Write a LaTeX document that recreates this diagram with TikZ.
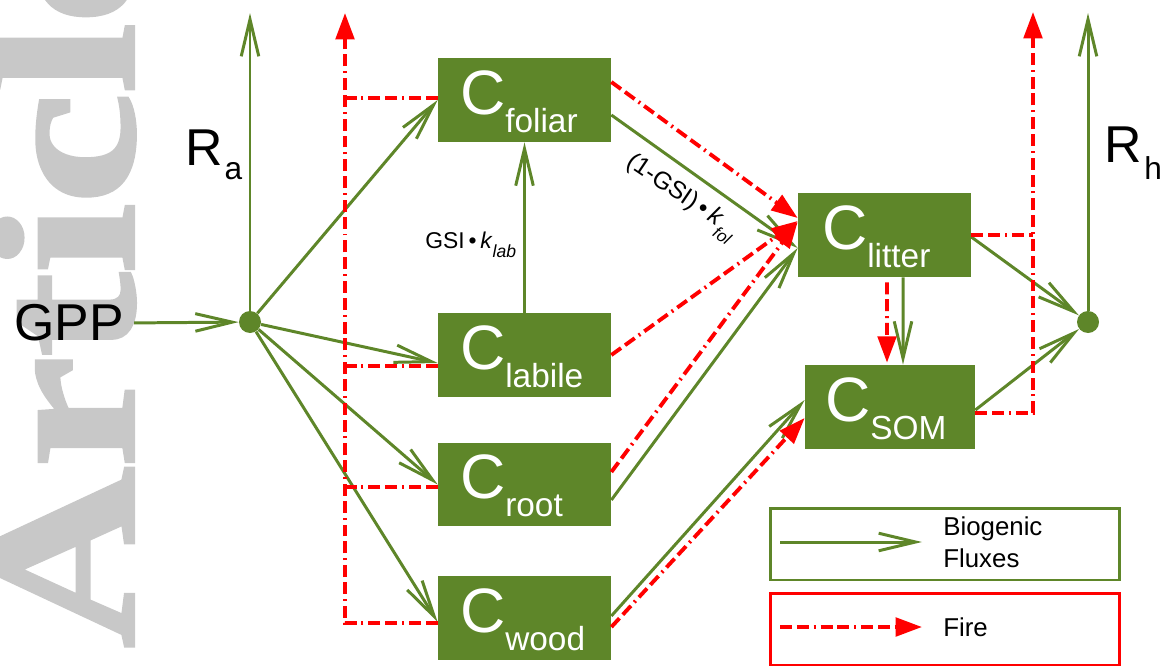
\documentclass[tikz,border=0pt]{standalone}
\usepackage{fontspec}
\setmainfont{Liberation Sans}
\newfontfamily\wmfont{Liberation Serif}[BoldFeatures={FakeBold=2}]
\usetikzlibrary{arrows.meta,calc}
\definecolor{ogreen}{RGB}{94,134,41}
\definecolor{wmgray}{RGB}{200,200,200}
\newcommand\pooltxt[1]{C\raisebox{-0.36cm}{\fontsize{19}{19}\selectfont #1}}
\begin{document}
\begin{tikzpicture}[x=0.02cm,y=-0.02cm,
  bio/.style={draw=ogreen, line width=1.7pt, -{Straight Barb[length=21pt,width=10pt]}},
  fire/.style={draw=red, line width=2.2pt, dash pattern=on 6.8pt off 2.8pt on 6.8pt off 2.8pt on 1.1pt off 2.8pt},
  firearrow/.style={fire, -{Triangle[length=15pt,width=10.5pt]}},
  pool/.style={fill=ogreen, draw=none, minimum width=3.46cm, minimum height=1.68cm, inner sep=0},
  pooltext/.style={anchor=base west, inner sep=0, text=white, font=\fontsize{35.7}{36}\selectfont},
  hub/.style={circle, fill=ogreen, minimum size=0.44cm, inner sep=0},
  big/.style={font=\fontsize{29.5}{30}\selectfont, inner sep=0},
  legtext/.style={anchor=base west, inner sep=0, font=\fontsize{14.7}{15}\selectfont},
  watermark/.style={anchor=base west, rotate=90, inner sep=0, text=wmgray, font=\wmfont\bfseries\fontsize{115.6}{116}\selectfont}]
\useasboundingbox (0,0) rectangle (1169,666);
% watermark
\node[watermark] (wm) at (133,648) {\scalebox{1.23}[1]{Article}};

% pools
\node[pool] (fol) at (524.5,100) {};
\node[pool] (lab) at (524.5,355) {};
\node[pool] (root) at (524.5,484.5) {};
\node[pool] (wood) at (524.5,618) {};
\node[pool] (lit) at (884.5,235) {};
\node[pool, minimum width=3.4cm] (som) at (890,407) {};
\node[pooltext] (folT) at ($(fol.south west)+(22,-28)$) {\pooltxt{foliar}};
\node[pooltext] (labT) at ($(lab.south west)+(22,-28)$) {\pooltxt{labile}};
\node[pooltext] (rootT) at ($(root.south west)+(22,-28)$) {\pooltxt{root}};
\node[pooltext] (woodT) at ($(wood.south west)+(22,-28)$) {\pooltxt{wood}};
\node[pooltext] (litT) at ($(lit.south west)+(24,-28)$) {\pooltxt{litter}};
\node[pooltext] (somT) at ($(som.south west)+(20,-28)$) {\pooltxt{SOM}};

% hubs and labels
\node[hub] (hubA) at (250,322) {};
\node[hub] (hubH) at (1088,322) {};
\node[big] (gpp) at (69,323) {GPP};
\node[big, anchor=base west] (ra) at (185,165) {R\kern1pt\raisebox{-0.3cm}{\fontsize{18}{18}\selectfont a}};
\node[big, anchor=base west] (rh) at (1104,162) {R\kern1.5pt\raisebox{-0.36cm}{\fontsize{18}{18}\selectfont h}};
\node[anchor=base west, inner sep=0, font=\fontsize{13}{13}\selectfont] (gsi) at (425,248)
  {GSI\,\textbullet\,\textit{k}\raisebox{-0.18cm}{\fontsize{10}{10}\selectfont\textit{lab}}};
\node[anchor=base west, inner sep=0, rotate=-34, font=\fontsize{14}{14}\selectfont] (gsifol) at (625,165)
  {(1-GSI)\,\textbullet\,\textit{k}\raisebox{-0.2cm}{\fontsize{9.5}{9.5}\selectfont\textit{fol}}};

% coordinates
\coordinate (raTop) at (250,13);
\coordinate (rhTop) at (1088,13);
\coordinate (fLTop) at (345,13);
\coordinate (fRTop) at (1033,12);

% biogenic fluxes
\draw[bio, shorten <=0.2cm] (gpp.east) -- (hubA);
\draw[bio] (hubA) -- (raTop);
\draw[bio] (hubH) -- (rhTop);
\draw[bio] (hubA) -- (fol.west);
\draw[bio] (hubA) -- ($(lab.west)+(0,8)$);
\draw[bio] (hubA) -- (root.west);
\draw[bio] (hubA) -- ($(wood.west)+(0,4)$);
\draw[bio] (lab.north) -- (fol.south);
\draw[bio] ($(fol.east)+(0,15)$) -- ($(lit.west)+(0,13)$);
\draw[bio] ($(root.east)+(0,15.5)$) -- ($(lit.west)+(0,13)$);
\draw[bio] ($(wood.east)+(0,-2)$) -- ($(som.west)+(0,-7)$);
\draw[bio] ($(lit.south)+(18.5,0)$) -- ($(som.north)+(13,0)$);
\draw[bio] ($(lit.east)+(0,2)$) -- (hubH);
\draw[bio] ($(som.east)+(0,3)$) -- (hubH);

% fire fluxes
\coordinate (folF) at ($(fol.west)+(0,-2)$);
\coordinate (labF) at ($(lab.west)+(0,11)$);
\coordinate (rootF) at ($(root.west)+(0,2.5)$);
\coordinate (woodF) at ($(wood.west)+(0,5)$);
\draw[firearrow] (woodF) -| (fLTop);
\draw[fire] (folF) -- (folF -| fLTop);
\draw[fire] (labF) -- (labF -| fLTop);
\draw[fire] (rootF) -- (rootF -| fLTop);
\coordinate (litF) at (lit.east);
\coordinate (somF) at ($(som.east)+(0,6)$);
\draw[firearrow] (somF) -| (fRTop);
\draw[fire] (litF) -- (litF -| fRTop);
\draw[firearrow] ($(fol.east)+(0,-18)$) -- ($(lit.west)+(0,-17)$);
\draw[firearrow] (lab.east) -- ($(lit.west)+(0,-14)$);
\draw[firearrow] ($(root.east)+(0,-12.5)$) -- ($(lit.west)+(0,-13)$);
\draw[firearrow] ($(wood.east)+(0,9)$) -- ($(som.west)+(0,11)$);
\draw[firearrow] ($(lit.south)+(2.5,5)$) -- ($(som.north)+(-3,-2)$);

% legend
\node[draw=ogreen, line width=1.7pt, minimum width=7cm, minimum height=1.44cm, inner sep=0] (legB) at (945,544) {};
\node[draw=red, line width=1.7pt, minimum width=7cm, minimum height=1.44cm, inner sep=0] (legF) at (945,629) {};
\coordinate (lbS) at (780,542);
\coordinate (lbE) at (922,542);
\coordinate (lfS) at (780,627);
\coordinate (lfE) at (922,627);
\draw[bio] (lbS) -- (lbE);
\draw[firearrow] (lfS) -- (lfE);
\node[legtext] (lb1) at (943,535) {Biogenic};
\node[legtext] (lb2) at (943,567) {Fluxes};
\node[legtext] (lf) at (943,636) {Fire};
\end{tikzpicture}
\end{document}
